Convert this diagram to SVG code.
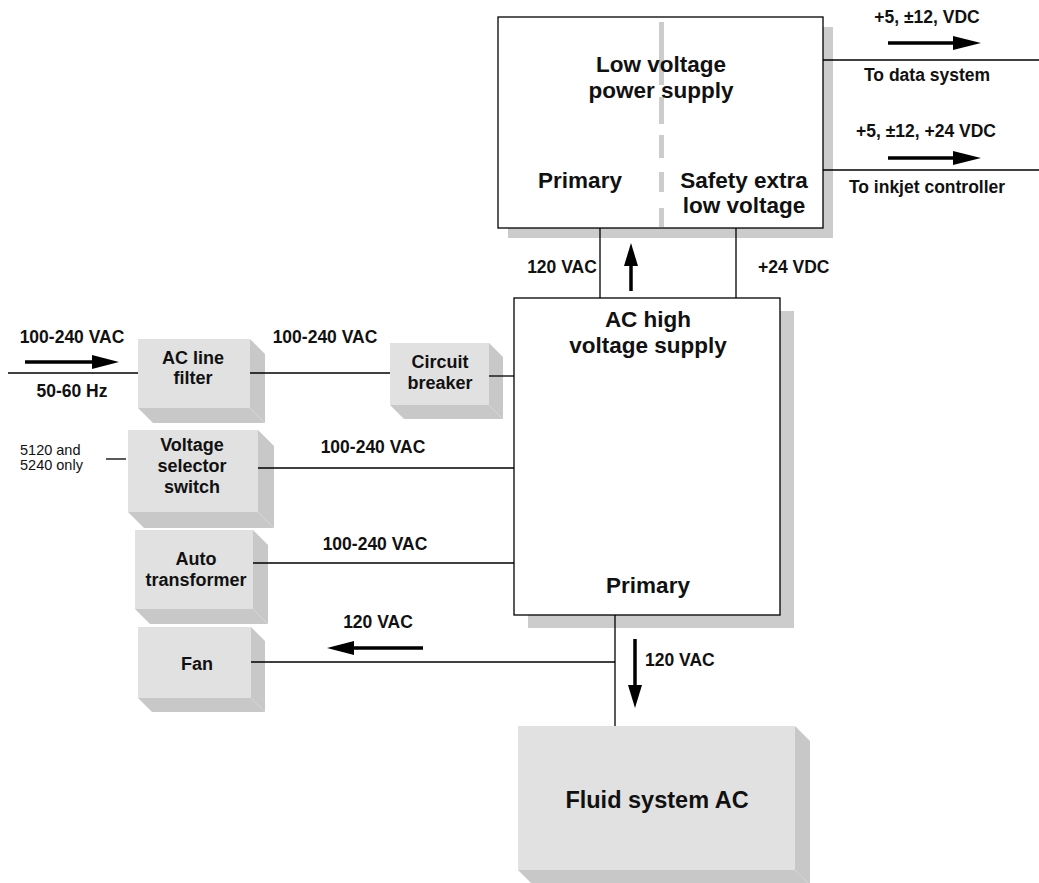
<svg xmlns="http://www.w3.org/2000/svg" width="1039" height="883" viewBox="0 0 1039 883">
<style>
.face{fill:#e1e1e1}
.side{fill:#c8c8c8}
.shadow{fill:#cccccc}
.box{fill:#ffffff;stroke:#000;stroke-width:1.3}
.ln{stroke:#000;stroke-width:1.3;fill:none}
.shaft{stroke:#000;stroke-width:3.5;fill:none}
.head{fill:#000}
.big{font-family:"Liberation Sans",Arial,sans-serif;font-weight:bold;font-size:22.5px;fill:#111;text-anchor:middle}
.bt{font-family:"Liberation Sans",Arial,sans-serif;font-weight:bold;font-size:18px;fill:#111;text-anchor:middle}
.lbl{font-family:"Liberation Sans",Arial,sans-serif;font-weight:bold;font-size:17.5px;fill:#111;text-anchor:middle}
.note{font-family:"Liberation Sans",Arial,sans-serif;font-size:14.5px;fill:#111}
</style>

<g id="lv-power-supply">
  <rect class="shadow" x="508" y="27" width="325" height="211"/>
  <rect class="box" x="498" y="17" width="325" height="211"/>
  <g fill="#cccccc">
    <rect x="659" y="22" width="5" height="63"/>
    <rect x="659" y="97" width="5" height="27"/>
    <rect x="659" y="135" width="5" height="23"/>
    <rect x="659" y="172" width="5" height="20"/>
    <rect x="659" y="208" width="5" height="19"/>
  </g>
  <text class="big" x="661" y="72">Low voltage</text>
  <text class="big" x="661" y="98">power supply</text>
  <text class="big" x="580" y="188">Primary</text>
  <text class="big" x="744" y="188">Safety extra</text>
  <text class="big" x="744" y="213">low voltage</text>
</g>

<g id="ac-high-voltage-supply">
  <rect class="shadow" x="528" y="311" width="266" height="317"/>
  <rect class="box" x="514" y="298" width="266" height="317"/>
  <text class="big" x="648" y="327">AC high</text>
  <text class="big" x="648" y="353">voltage supply</text>
  <text class="big" x="648" y="593">Primary</text>
</g>

<g id="ac-line-filter">
  <polygon class="side" points="250,339 265,354 265,423 250,408"/>
  <polygon class="side" points="138,408 250,408 265,423 153,423"/>
  <rect class="face" x="138" y="339" width="112" height="69"/>
  <text class="bt" x="193" y="364">AC line</text>
  <text class="bt" x="193" y="384">filter</text>
</g>

<g id="circuit-breaker">
  <polygon class="side" points="489,343 503,357 503,419 489,405"/>
  <polygon class="side" points="390,405 489,405 503,419 404,419"/>
  <rect class="face" x="390" y="343" width="99" height="62"/>
  <text class="bt" x="440" y="368">Circuit</text>
  <text class="bt" x="440" y="389">breaker</text>
</g>

<g id="voltage-selector-switch">
  <polygon class="side" points="258,430 274,446 274,528 258,512"/>
  <polygon class="side" points="128,512 258,512 274,528 144,528"/>
  <rect class="face" x="128" y="430" width="130" height="82"/>
  <text class="bt" x="192" y="451">Voltage</text>
  <text class="bt" x="192" y="472">selector</text>
  <text class="bt" x="192" y="493">switch</text>
</g>

<g id="auto-transformer">
  <polygon class="side" points="253,530 268,545 268,624 253,609"/>
  <polygon class="side" points="135,609 253,609 268,624 150,624"/>
  <rect class="face" x="135" y="530" width="118" height="79"/>
  <text class="bt" x="196" y="565">Auto</text>
  <text class="bt" x="196" y="586">transformer</text>
</g>

<g id="fan">
  <polygon class="side" points="251,627 265,641 265,712 251,698"/>
  <polygon class="side" points="138,698 251,698 265,712 152,712"/>
  <rect class="face" x="138" y="627" width="113" height="71"/>
  <text class="bt" x="197" y="670">Fan</text>
</g>

<g id="fluid-system-ac">
  <polygon class="side" points="795,726 810,741 810,885 795,870"/>
  <polygon class="side" points="518,870 795,870 810,885 533,885"/>
  <rect class="face" x="518" y="726" width="277" height="144"/>
  <text class="big" x="657" y="808" style="font-size:23.5px">Fluid system AC</text>
</g>

<g id="connectors">
  <line class="ln" x1="823" y1="60" x2="1039" y2="60"/>
  <line class="ln" x1="823" y1="170" x2="1039" y2="170"/>
  <line class="shaft" x1="888" y1="43" x2="956" y2="43"/>
  <polygon class="head" points="953,36 981,43 953,50"/>
  <line class="shaft" x1="888" y1="158" x2="956" y2="158"/>
  <polygon class="head" points="953,151 981,158 953,165"/>
  <line class="ln" x1="600" y1="228" x2="600" y2="298"/>
  <line class="ln" x1="736" y1="228" x2="736" y2="298"/>
  <line class="shaft" x1="631" y1="291" x2="631" y2="262"/>
  <polygon class="head" points="624,266 631,243 638,266"/>
  <line class="ln" x1="8" y1="373" x2="138" y2="373"/>
  <line class="shaft" x1="25" y1="362" x2="95" y2="362"/>
  <polygon class="head" points="92,355 119,362 92,369"/>
  <line class="ln" x1="250" y1="373" x2="390" y2="373"/>
  <line class="ln" x1="489" y1="376" x2="514" y2="376"/>
  <line class="ln" x1="106" y1="459" x2="126" y2="459"/>
  <line class="ln" x1="258" y1="468" x2="514" y2="468"/>
  <line class="ln" x1="253" y1="563" x2="514" y2="563"/>
  <line class="ln" x1="615" y1="615" x2="615" y2="726"/>
  <line class="ln" x1="251" y1="662" x2="615" y2="662"/>
  <line class="shaft" x1="423" y1="648" x2="350" y2="648"/>
  <polygon class="head" points="354,641 327,648 354,655"/>
  <line class="shaft" x1="635" y1="639" x2="635" y2="688"/>
  <polygon class="head" points="628,685 635,708 642,685"/>
</g>

<g id="labels">
  <text class="lbl" x="927" y="23">+5, ±12, VDC</text>
  <text class="lbl" x="927" y="81">To data system</text>
  <text class="lbl" x="926" y="137">+5, ±12, +24 VDC</text>
  <text class="lbl" x="927" y="193">To inkjet controller</text>
  <text class="lbl" x="562" y="273">120 VAC</text>
  <text class="lbl" x="758" y="273" style="text-anchor:start">+24 VDC</text>
  <text class="lbl" x="72" y="343">100-240 VAC</text>
  <text class="lbl" x="72" y="397">50-60 Hz</text>
  <text class="lbl" x="325" y="343">100-240 VAC</text>
  <text class="lbl" x="373" y="453">100-240 VAC</text>
  <text class="lbl" x="375" y="550">100-240 VAC</text>
  <text class="lbl" x="378" y="628">120 VAC</text>
  <text class="lbl" x="645" y="666" style="text-anchor:start">120 VAC</text>
  <text class="note" x="20" y="455">5120 and</text>
  <text class="note" x="20" y="470">5240 only</text>
</g>
</svg>
